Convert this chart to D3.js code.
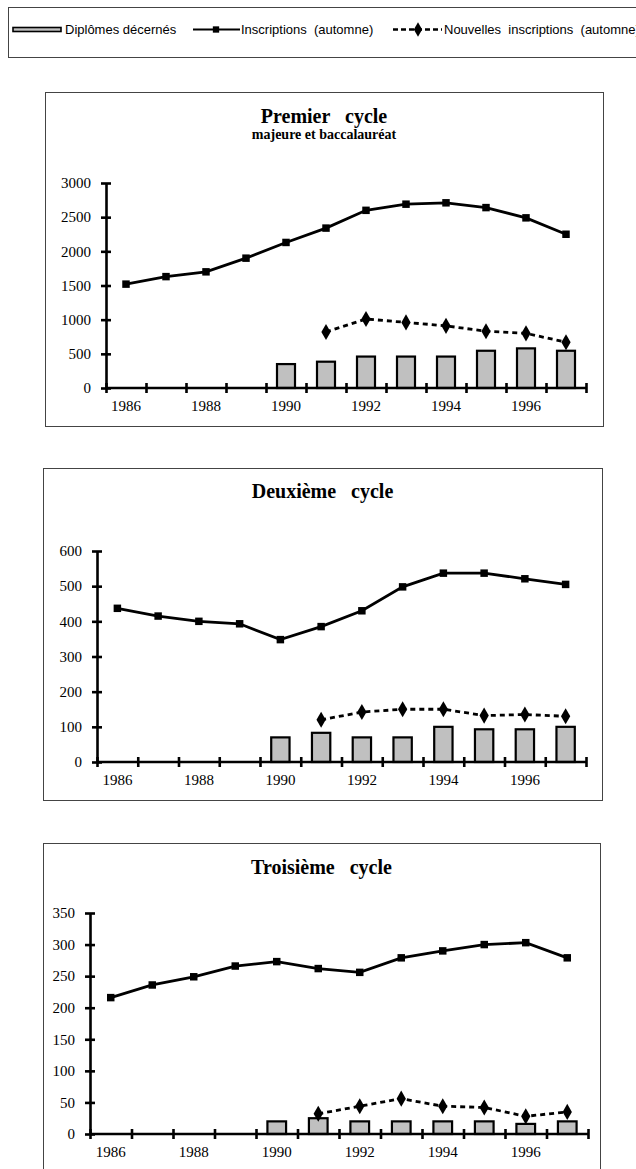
<!DOCTYPE html>
<head>
  <meta charset="utf-8">
  <script src="https://d3js.org/d3.v7.min.js"></script>
  <style>
    body { margin: 0; background: #fff; }
    svg { display: block; }
  </style>
</head>

<body>
  <svg width="636" height="1169"></svg>

  <script>
    // categories
    const years = [1986, 1987, 1988, 1989, 1990, 1991, 1992, 1993, 1994, 1995, 1996, 1997];
    const yearLabels = ["1986", "", "1988", "", "1990", "", "1992", "", "1994", "", "1996", ""];

    // series (null = no value)
    const premierInscriptions = [1520, 1630, 1700, 1900, 2130, 2340, 2600, 2690, 2710, 2640, 2490, 2250];
    const premierNouvelles = [null, null, null, null, null, 820, 1010, 960, 910, 830, 800, 670];
    const premierDiplomes = [null, null, null, null, 350, 385, 460, 460, 460, 545, 580, 545];

    const deuxiemeInscriptions = [437, 415, 400, 393, 348, 385, 430, 498, 537, 537, 521, 505];
    const deuxiemeNouvelles = [null, null, null, null, null, 120, 142, 150, 150, 132, 135, 130];
    const deuxiemeDiplomes = [null, null, null, null, 70, 83, 70, 70, 100, 93, 93, 100];

    const troisiemeInscriptions = [216, 236, 249, 266, 273, 262, 256, 279, 290, 300, 303, 279];
    const troisiemeNouvelles = [null, null, null, null, null, 32, 44, 56, 44, 42, 28, 35];
    const troisiemeDiplomes = [null, null, null, null, 20, 25, 20, 20, 20, 20, 16, 20];

    // y tick values
    const premierTicks = [0, 500, 1000, 1500, 2000, 2500, 3000];
    const deuxiemeTicks = [0, 100, 200, 300, 400, 500, 600];
    const troisiemeTicks = [0, 50, 100, 150, 200, 250, 300, 350];

    const legendLabels = ["Diplômes décernés", "Inscriptions  (automne)", "Nouvelles  inscriptions  (automne)"];

    const charts = [
      { title: "Premier   cycle", subtitle: "majeure et baccalauréat",
        insc: premierInscriptions, nouv: premierNouvelles, dipl: premierDiplomes, ticks: premierTicks,
        box: [45, 92, 558, 334], plot: [106, 586, 388, 183], titleY: 123, subY: 139 },
      { title: "Deuxième   cycle", subtitle: null,
        insc: deuxiemeInscriptions, nouv: deuxiemeNouvelles, dipl: deuxiemeDiplomes, ticks: deuxiemeTicks,
        box: [43, 468, 559, 332], plot: [97, 586, 762, 551], titleY: 498 },
      { title: "Troisième   cycle", subtitle: null,
        insc: troisiemeInscriptions, nouv: troisiemeNouvelles, dipl: troisiemeDiplomes, ticks: troisiemeTicks,
        box: [43, 843, 557, 400], plot: [90, 588, 1134, 913], titleY: 874 }
    ];

    const svg = d3.select("svg");
    const serif = "'Liberation Serif', 'Times New Roman', serif";
    const sans = "'Liberation Sans', Arial, sans-serif";
    const barFill = "#c0c0c0";

    // legend
    const lg = svg.append("g");
    lg.append("rect")
      .attr("x", 8.5).attr("y", 7.5).attr("width", 700).attr("height", 50)
      .attr("fill", "#fff").attr("stroke", "#444").attr("stroke-width", 1);

    lg.append("rect")
      .attr("x", 13).attr("y", 27.5).attr("width", 48).attr("height", 4)
      .attr("fill", barFill).attr("stroke", "#000").attr("stroke-width", 1.6);

    lg.append("line")
      .attr("x1", 193).attr("x2", 240).attr("y1", 29.5).attr("y2", 29.5)
      .attr("stroke", "#000").attr("stroke-width", 2);
    lg.append("path")
      .attr("transform", "translate(216,29.5)")
      .attr("d", d3.symbol(d3.symbolSquare, 40)());

    lg.append("line")
      .attr("x1", 393).attr("x2", 442).attr("y1", 29.5).attr("y2", 29.5)
      .attr("stroke", "#000").attr("stroke-width", 2.5).attr("stroke-dasharray", "5,3");
    lg.append("path")
      .attr("transform", "translate(418,29.5)")
      .attr("d", d3.symbol(d3.symbolDiamond, 60)());

    lg.selectAll("text.leg")
      .data(legendLabels)
      .enter().append("text")
      .attr("class", "leg")
      .attr("x", (d, i) => [65, 241, 444][i])
      .attr("y", 34)
      .attr("xml:space", "preserve")
      .style("white-space", "pre")
      .style("font-family", sans)
      .style("font-size", "13px")
      .text(d => d);

    charts.forEach(c => {
      const g = svg.append("g");
      const [bx, by, bw, bh] = c.box;
      const [x0, x1, y0, yTop] = c.plot;

      g.append("rect")
        .attr("x", bx + 0.5).attr("y", by + 0.5).attr("width", bw).attr("height", bh)
        .attr("fill", "#fff").attr("stroke", "#444").attr("stroke-width", 1);

      g.append("text")
        .attr("x", bx + bw / 2).attr("y", c.titleY)
        .attr("text-anchor", "middle")
        .attr("xml:space", "preserve")
        .style("white-space", "pre")
        .style("font-family", serif).style("font-weight", "bold").style("font-size", "20px")
        .text(c.title);
      if (c.subtitle) {
        g.append("text")
          .attr("x", bx + bw / 2).attr("y", c.subY)
          .attr("text-anchor", "middle")
          .style("font-family", serif).style("font-weight", "bold").style("font-size", "14px")
          .text(c.subtitle);
      }

      const x = d3.scaleBand().domain(years).range([x0, x1]);
      const xEdge = d3.scaleLinear().domain([0, years.length]).range([x0, x1]);
      const yMax = c.ticks[c.ticks.length - 1];
      const y = d3.scaleLinear().domain([0, yMax]).range([y0, yTop]);
      const cx = d => x(d) + x.bandwidth() / 2;

      // bars
      const barW = x.bandwidth() * 0.45;
      g.selectAll("rect.bar")
        .data(years.map((yr, i) => ({ yr, v: c.dipl[i] })).filter(d => d.v != null))
        .enter().append("rect")
        .attr("class", "bar")
        .attr("x", d => cx(d.yr) - barW / 2)
        .attr("y", d => y(d.v))
        .attr("width", barW)
        .attr("height", d => y0 - y(d.v))
        .attr("fill", barFill).attr("stroke", "#000").attr("stroke-width", 2.2);

      // x axis: ticks at category edges, labels at centres
      const xa = g.append("g").attr("transform", `translate(0,${y0})`)
        .call(d3.axisBottom(xEdge).tickValues(d3.range(0, years.length + 1)).tickFormat("").tickSizeOuter(0));
      xa.select(".domain").attr("d", `M${x0},0H${x1}`).attr("stroke-width", 2.6);
      xa.selectAll(".tick line").attr("y1", -5).attr("y2", 5).attr("stroke-width", 2.6);

      g.selectAll("text.xl")
        .data(years)
        .enter().append("text")
        .attr("class", "xl")
        .attr("x", d => cx(d))
        .attr("y", y0 + 23)
        .attr("text-anchor", "middle")
        .style("font-family", serif).style("font-size", "15px")
        .text((d, i) => yearLabels[i]);

      // y axis
      const ya = g.append("g").attr("transform", `translate(${x0},0)`)
        .call(d3.axisLeft(y).tickValues(c.ticks).tickFormat(d3.format("d")).tickSizeOuter(0).tickPadding(9));
      ya.select(".domain").attr("stroke-width", 2.6);
      ya.selectAll(".tick line").attr("x1", -5).attr("x2", 5).attr("stroke-width", 2.6);
      ya.selectAll(".tick text").style("font-family", serif).style("font-size", "15px").attr("fill", "#000");

      // Inscriptions
      const insc = years.map((yr, i) => ({ yr, v: c.insc[i] }));
      g.append("path")
        .datum(insc)
        .attr("fill", "none").attr("stroke", "#000").attr("stroke-width", 2.8)
        .attr("d", d3.line().x(d => cx(d.yr)).y(d => y(d.v)));
      g.selectAll("path.sq")
        .data(insc)
        .enter().append("path")
        .attr("class", "sq")
        .attr("transform", d => `translate(${cx(d.yr)},${y(d.v)})`)
        .attr("d", d3.symbol(d3.symbolSquare, 56)());

      // Nouvelles inscriptions
      const nouv = years.map((yr, i) => ({ yr, v: c.nouv[i] })).filter(d => d.v != null);
      g.append("path")
        .datum(nouv)
        .attr("fill", "none").attr("stroke", "#000").attr("stroke-width", 2.8)
        .attr("stroke-dasharray", "5,4")
        .attr("d", d3.line().x(d => cx(d.yr)).y(d => y(d.v)));
      g.selectAll("path.dm")
        .data(nouv)
        .enter().append("path")
        .attr("class", "dm")
        .attr("transform", d => `translate(${cx(d.yr)},${y(d.v)})`)
        .attr("d", d3.symbol(d3.symbolDiamond, 75)());
    });
  </script>
</body>
